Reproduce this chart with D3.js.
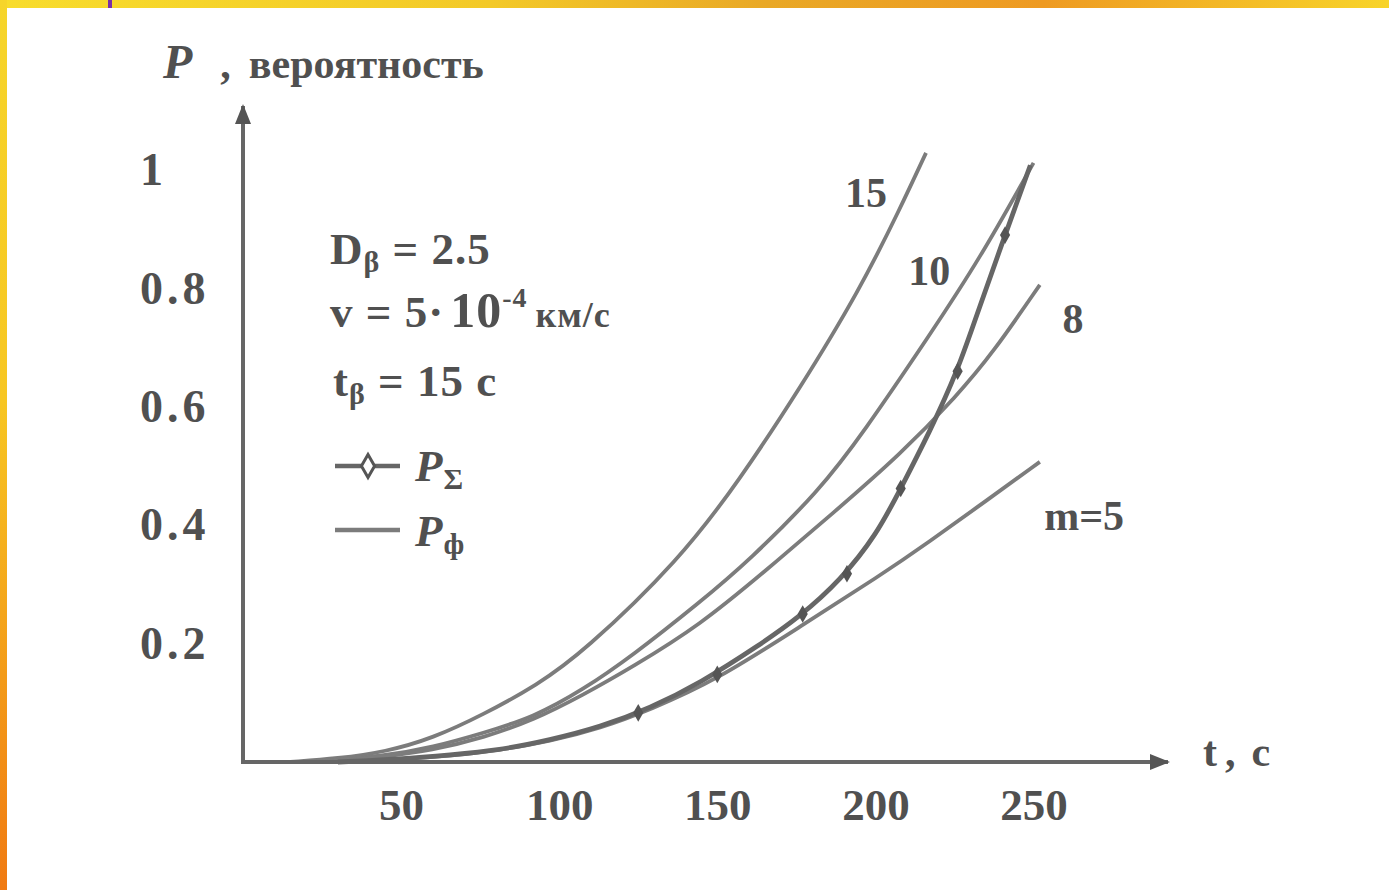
<!DOCTYPE html>
<html>
<head>
<meta charset="utf-8">
<script src="https://cdn.jsdelivr.net/npm/d3@7"></script>
<style>
  body { margin: 0; background: #fff; }
  svg text { font-family: "Liberation Serif", "DejaVu Serif", serif; font-weight: bold; fill: #505050; }
</style>
</head>
<body>
<svg id="chart" width="1389" height="890"></svg>
<script>
// ---- data (t in seconds, P probability) ----
const xTicks = [50, 100, 150, 200, 250]
const yTicks = [0.2, 0.4, 0.6, 0.8, 1]

const curve15 = [[15, 0], [30, 0.006], [45, 0.017], [60, 0.04], [76, 0.08], [93, 0.13], [107.5, 0.185],
  [138, 0.341], [157, 0.476], [176, 0.63], [195, 0.797], [208, 0.937], [216, 1.029]]
const curve10 = [[20, 0], [45, 0.01], [60, 0.025], [76, 0.049], [92, 0.076], [107.5, 0.122], [123, 0.179],
  [144.5, 0.27], [160, 0.34], [182.5, 0.46], [196, 0.555], [217, 0.72], [233, 0.85], [250, 1.012]]
const curve8 = [[25, 0], [43, 0.008], [60, 0.02], [76, 0.041], [92, 0.071], [107.5, 0.113], [123, 0.16],
  [144.5, 0.231], [165.7, 0.325], [186.5, 0.42], [208, 0.52], [226, 0.62], [237, 0.69], [252, 0.806]]
const curve5 = [[30, 0], [49.7, 0.005], [65.5, 0.01], [81, 0.02], [97, 0.035], [113, 0.057], [128.7, 0.088],
  [150, 0.139], [176, 0.228], [201.5, 0.315], [217, 0.372], [234.7, 0.44], [252, 0.507]]
const curveSigma = [[30, 0], [50, 0.005], [65.5, 0.012], [81, 0.02], [97, 0.037], [113, 0.059], [128.7, 0.091],
  [144.5, 0.133], [163.5, 0.198], [176, 0.245], [189, 0.307], [200.5, 0.385], [208, 0.462], [217, 0.556],
  [226, 0.66], [233, 0.77], [241, 0.89], [249, 1.008]]
const sigmaMarks = [[125, 0.083], [150, 0.148], [177, 0.25], [191, 0.318], [208, 0.462], [226, 0.66], [241, 0.89]]

const curveLabels = [
  { text: "15", t: 197, p: 0.963 },
  { text: "10", t: 217, p: 0.83 },
  { text: "8", t: 262.5, p: 0.75 },
  { text: "m=5", t: 266, p: 0.417 }
]

// ---- frame ----
var W = 1389, H = 890
var svg = d3.select("#chart")
var defs = svg.append("defs")

var gLeft = defs.append("linearGradient").attr("id", "leftGrad")
    .attr("x1", 0).attr("y1", 0).attr("x2", 0).attr("y2", 1)
gLeft.append("stop").attr("offset", "0%").attr("stop-color", "#f6d52a")
gLeft.append("stop").attr("offset", "45%").attr("stop-color", "#f7c622")
gLeft.append("stop").attr("offset", "100%").attr("stop-color", "#f07a12")

var gTop = defs.append("linearGradient").attr("id", "topGrad")
gTop.append("stop").attr("offset", "0%").attr("stop-color", "#f8dc2c")
gTop.append("stop").attr("offset", "35%").attr("stop-color", "#f3c928")
gTop.append("stop").attr("offset", "55%").attr("stop-color", "#e9a826")
gTop.append("stop").attr("offset", "75%").attr("stop-color", "#ee9a22")
gTop.append("stop").attr("offset", "100%").attr("stop-color", "#f8d42a")

svg.append("rect").attr("width", W).attr("height", H).attr("fill", "url(#leftGrad)")
svg.append("rect").attr("x", 7).attr("width", W - 7).attr("height", 8).attr("fill", "url(#topGrad)")
svg.append("rect").attr("x", 108).attr("width", 4).attr("height", 8).attr("fill", "#7a2fa8")
svg.append("rect").attr("x", 7).attr("y", 8).attr("width", W - 7).attr("height", H - 8).attr("fill", "#fff")

// ---- scales ----
var x = d3.scaleLinear().domain([0, 290]).range([243, 1160])
var y = d3.scaleLinear().domain([0, 1]).range([762, 170])

var line = d3.line()
    .x(function(d) { return x(d[0]) })
    .y(function(d) { return y(d[1]) })
    .curve(d3.curveBasis)

// arrow heads
defs.append("marker").attr("id", "arrow")
    .attr("viewBox", "0 0 10 10").attr("refX", 9).attr("refY", 5)
    .attr("markerWidth", 5).attr("markerHeight", 5).attr("orient", "auto")
  .append("path").attr("d", "M0,1 L10,5 L0,9 Z").attr("fill", "#555")

// ---- curves ----
var g = svg.append("g")
var solid = [curve15, curve10, curve8, curve5]
g.selectAll(".solid").data(solid).enter().append("path")
    .attr("class", "solid")
    .attr("d", line)
    .attr("fill", "none")
    .attr("stroke", "#7c7c7c")
    .attr("stroke-width", 3.8)

g.append("path").datum(curveSigma)
    .attr("d", line)
    .attr("fill", "none")
    .attr("stroke", "#666")
    .attr("stroke-width", 4.8)

g.selectAll(".mark").data(sigmaMarks).enter().append("path")
    .attr("class", "mark")
    .attr("transform", function(d) { return "translate(" + x(d[0]) + "," + y(d[1]) + ")" })
    .attr("d", d3.symbol().type(d3.symbolDiamond).size(90))
    .attr("fill", "#555")

// ---- axes ----
g.append("line")
    .attr("x1", x(0)).attr("x2", 1168).attr("y1", y(0)).attr("y2", y(0))
    .attr("stroke", "#666").attr("stroke-width", 4)
    .attr("marker-end", "url(#arrow)")
g.append("line")
    .attr("x1", x(0)).attr("x2", x(0)).attr("y1", y(0) + 2).attr("y2", 106)
    .attr("stroke", "#666").attr("stroke-width", 4)
    .attr("marker-end", "url(#arrow)")

var xAxis = g.append("g")
    .attr("transform", "translate(0," + y(0) + ")")
    .call(d3.axisBottom(x).tickValues(xTicks).tickSize(0).tickPadding(26))
xAxis.select(".domain").remove()
xAxis.selectAll("text").attr("font-size", 45).attr("fill", "#505050")
    .style("font-family", "Liberation Serif").style("font-weight", "bold")

var yAxis = g.append("g")
    .attr("transform", "translate(" + x(0) + ",0)")
    .call(d3.axisLeft(y).tickValues(yTicks).tickSize(0).tickFormat(function(d) { return d === 1 ? "1" : d.toFixed(1) }))
yAxis.select(".domain").remove()
yAxis.selectAll("text").attr("font-size", 46).attr("fill", "#505050")
    .attr("text-anchor", "start").attr("x", 140 - x(0))
    .style("letter-spacing", "4px")
    .style("font-family", "Liberation Serif").style("font-weight", "bold")

// axis titles
var yTitle = svg.append("text").attr("x", 163).attr("y", 78).attr("font-size", 42)
yTitle.append("tspan").attr("font-style", "italic").attr("font-size", 48).text("P")
yTitle.append("tspan").attr("dx", 28).text(",")
yTitle.append("tspan").attr("dx", 18).text("вероятность")

var xTitle = svg.append("text").attr("x", 1203).attr("y", 766).attr("font-size", 42)
xTitle.append("tspan").text("t")
xTitle.append("tspan").attr("dx", 8).text(",")
xTitle.append("tspan").attr("dx", 16).text("с")

// ---- curve labels ----
svg.selectAll(".clabel").data(curveLabels).enter().append("text")
    .attr("class", "clabel")
    .attr("x", function(d) { return x(d.t) })
    .attr("y", function(d) { return y(d.p) })
    .attr("text-anchor", "middle")
    .attr("dy", "0.35em")
    .attr("font-size", 42)
    .text(function(d) { return d.text })

// ---- legend / parameters ----
var lg = svg.append("g").attr("font-size", 45).style("letter-spacing", "1px")
var t1 = lg.append("text").attr("x", 330).attr("y", 264)
t1.append("tspan").text("D")
t1.append("tspan").attr("font-size", 30).attr("dy", 8).text("β")
t1.append("tspan").attr("dy", -8).text(" = 2.5")

var t2 = lg.append("text").attr("x", 330).attr("y", 327)
t2.append("tspan").text("v = 5·")
t2.append("tspan").attr("font-size", 50).attr("dx", 6).text("10")
t2.append("tspan").attr("font-size", 28).attr("dy", -20).text("-4")
t2.append("tspan").attr("font-size", 36).attr("dy", 20).attr("dx", 8).text("км/с")

var t3 = lg.append("text").attr("x", 333).attr("y", 396)
t3.append("tspan").text("t")
t3.append("tspan").attr("font-size", 30).attr("dy", 8).text("β")
t3.append("tspan").attr("dy", -8).text(" = 15 с")

lg.append("line").attr("x1", 335).attr("x2", 400).attr("y1", 466).attr("y2", 466)
    .attr("stroke", "#666").attr("stroke-width", 4.5)
lg.append("path").attr("transform", "translate(368,466)")
    .attr("d", d3.symbol().type(d3.symbolDiamond).size(150))
    .attr("fill", "#fff").attr("stroke", "#555").attr("stroke-width", 3)
var t4 = lg.append("text").attr("x", 415).attr("y", 481)
t4.append("tspan").attr("font-style", "italic").text("P")
t4.append("tspan").attr("font-size", 30).attr("dy", 8).text("Σ")

lg.append("line").attr("x1", 335).attr("x2", 400).attr("y1", 530).attr("y2", 530)
    .attr("stroke", "#7c7c7c").attr("stroke-width", 4.5)
var t5 = lg.append("text").attr("x", 415).attr("y", 546)
t5.append("tspan").attr("font-style", "italic").text("P")
t5.append("tspan").attr("font-size", 30).attr("dy", 8).text("ф")
</script>
</body>
</html>
